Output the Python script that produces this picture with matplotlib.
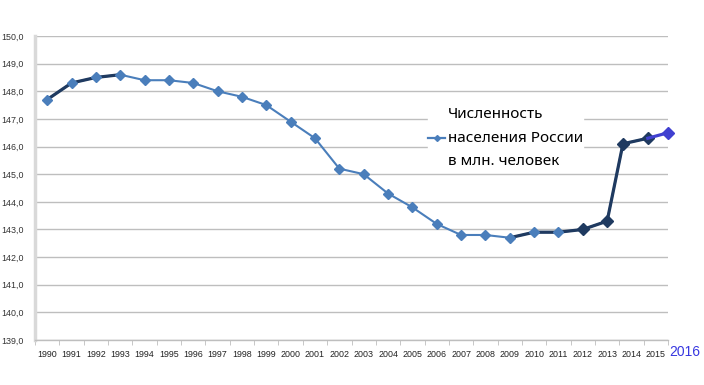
import matplotlib
matplotlib.use("Agg")
import matplotlib.pyplot as plt
from matplotlib.lines import Line2D

years = list(range(1990, 2017))
population = [147.7, 148.3, 148.5, 148.6, 148.4, 148.4, 148.3, 148.0, 147.8, 147.5,
              146.9, 146.3, 145.2, 145.0, 144.3, 143.8, 143.2, 142.8, 142.8, 142.7,
              142.9, 142.9, 143.0, 143.3, 146.1, 146.3, 146.5]
tick_years = list(range(1990, 2016))
extra_label = "2016"
legend_label = "Численность\nнаселения России\nв млн. человек"

# hand-added points in the original are drawn slightly left of their category
shift = {2014: -0.35, 2015: -0.33, 2016: -0.5}
xs = [(y - 1990) + shift.get(y, 0.0) for y in years]

BLUE = "#4A7EBB"
DARK = "#1F3A60"
VIOLET = "#4040D0"

fig = plt.figure(figsize=(7.04, 3.85), dpi=100)
ax = fig.add_axes([35 / 704, 1 - 340 / 385, 633 / 704, 304 / 385])

ax.set_xlim(-0.5, len(tick_years) - 0.5)
ax.set_ylim(139, 150)

# gridlines
ax.set_yticks([139 + i for i in range(12)])
ax.set_yticklabels([f"{v:.1f}".replace(".", ",") for v in range(139, 151)])
ax.yaxis.grid(True, color="#BEBEBE", linewidth=1.0)
ax.set_axisbelow(True)

for s in ["top", "right"]:
    ax.spines[s].set_visible(False)
ax.spines["left"].set_color("#D9D9D9")
ax.spines["left"].set_linewidth(2.5)
ax.spines["bottom"].set_color("#BEBEBE")
ax.spines["bottom"].set_linewidth(1.0)

ax.set_xticks(range(len(tick_years)))
ax.set_xticklabels([str(y) for y in tick_years])
ax.set_xticks([i - 0.5 for i in range(len(tick_years) + 1)], minor=True)
ax.tick_params(axis="x", which="major", length=0, pad=7, labelsize=6.4, labelcolor="#222222")
ax.tick_params(axis="x", which="minor", length=3.5, color="#BEBEBE")
ax.tick_params(axis="y", length=0, pad=8, labelsize=6.4, labelcolor="#333333")
for lab in ax.get_xticklabels() + ax.get_yticklabels():
    lab.set_fontfamily("Liberation Sans")

# base series
ax.plot(xs[:-1], population[:-1], color=BLUE, linewidth=1.5, zorder=3)

# darker over-drawn segments
i93 = years.index(1993)
ax.plot(xs[:i93 + 1], population[:i93 + 1], color=DARK, linewidth=2.3, zorder=4)
i09 = years.index(2009)
i15 = years.index(2015)
ax.plot(xs[i09:i15 + 1], population[i09:i15 + 1], color=DARK, linewidth=2.3, zorder=4)

# markers
i12 = years.index(2012)
ax.plot(xs[:i12], population[:i12], linestyle="none", marker="D", markersize=4.8,
        color=BLUE, zorder=5)
ax.plot(xs[i12:i15 + 1], population[i12:i15 + 1], linestyle="none", marker="D",
        markersize=6.5, color=DARK, zorder=5)

# final segment
ax.plot(xs[i15:], population[i15:], color=VIOLET, linewidth=2.3, marker="D",
        markersize=6, markevery=[1], zorder=6, clip_on=False)

# extra year label
ax.text(26.2, -0.04, extra_label, transform=ax.get_xaxis_transform(), ha="center",
        va="center", fontsize=10, color="#3838E0", family="Liberation Sans",
        clip_on=False)

handle = Line2D([], [], color=BLUE, linewidth=1.6, marker="D", markersize=3)
leg = ax.legend([handle], [legend_label], loc="center left",
                bbox_to_anchor=(420 / 704, 1 - 138 / 385), bbox_transform=fig.transFigure,
                frameon=True, fancybox=False, framealpha=1.0, edgecolor="white",
                handlelength=1.1, handletextpad=0.15, borderpad=0.05,
                prop={"family": "Noto Sans", "size": 11})
for t in leg.get_texts():
    t.set_linespacing(1.75)
leg.set_zorder(7)

fig.savefig("out.png", dpi=100)
